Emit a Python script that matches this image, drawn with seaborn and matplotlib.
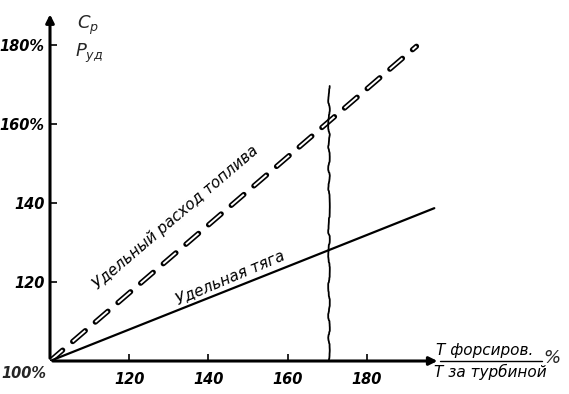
import numpy as np
import pandas as pd
import seaborn as sns
import matplotlib.pyplot as plt

# values (percent)
ratio_fuel = [100, 192.5]
fuel_consumption = [100, 179.7]
ratio_thrust = [100, 197]
specific_thrust = [100, 138.7]
cut_x = [170.5, 170.5]
cut_y = [100, 169.6]

x_ticks = [120, 140, 160, 180]
x_tick_labels = ["120", "140", "160", "180"]
y_ticks = [120, 140, 160, 180]
y_tick_labels = ["120", "140", "160%", "180%"]

sns.set_theme(style="white")
plt.rcParams['font.family'] = ['DejaVu Sans']
plt.rcParams['lines.scale_dashes'] = False

fig = plt.figure(figsize=(5.69, 3.94), dpi=100)
ax = fig.add_axes([50 / 569, 33 / 394, 395 / 569, 355 / 394])
ax.set_xlim(100, 199.7)
ax.set_ylim(100, 189.9)
for s in ax.spines.values():
    s.set_visible(False)

# axes with arrows
ax.annotate("", xy=(198.5, 100), xytext=(100, 100),
            arrowprops=dict(arrowstyle="-|>", color="black", lw=2.2, mutation_scale=12),
            annotation_clip=False)
ax.annotate("", xy=(100, 188.5), xytext=(100, 100),
            arrowprops=dict(arrowstyle="-|>", color="black", lw=2.2, mutation_scale=12),
            annotation_clip=False)

fuel = pd.DataFrame({"x": ratio_fuel, "y": fuel_consumption})
thrust = pd.DataFrame({"x": ratio_thrust, "y": specific_thrust})

# hollow dashes: thick black dashed line with a thin white one on top
sns.lineplot(data=fuel, x="x", y="y", ax=ax, color="black", lw=3.8,
             dashes=False, linestyle=(0, (12, 9.5)), dash_capstyle="round")
sns.lineplot(data=fuel, x="x", y="y", ax=ax, color="white", lw=1.4,
             dashes=False, linestyle=(0, (12, 9.5)), dash_capstyle="butt")
sns.lineplot(data=thrust, x="x", y="y", ax=ax, color="black", lw=1.6)

cut = ax.plot(cut_x, cut_y, color="black", lw=1.3)[0]
cut.set_sketch_params(scale=0.8, length=60, randomness=10)

ax.set_xticks(x_ticks)
ax.set_xticklabels(x_tick_labels)
ax.set_yticks(y_ticks)
ax.set_yticklabels(y_tick_labels)
ax.tick_params(axis="both", direction="in", length=5, width=1.2, colors="black",
               labelsize=10.5, pad=4, bottom=True, left=True)
ax.tick_params(axis="x", pad=8)
for lab in ax.get_xticklabels() + ax.get_yticklabels():
    lab.set_fontstyle("italic")
    lab.set_fontweight("bold")
ax.set_xlabel("")
ax.set_ylabel("")
ax.grid(False)

txt = dict(fontstyle="italic", fontsize=11, color="black")
ax.text(99.2, 98.8, "100%", ha="right", va="top", fontweight="bold", fontsize=10.5,
        fontstyle="italic", transform=ax.transData)
ax.text(131.8, 136.3, "Удельный расход топлива", rotation=40.5,
        rotation_mode="anchor", ha="center", va="center", **txt)
ax.text(145.5, 121.2, "Удельная тяга", rotation=23,
        rotation_mode="anchor", ha="center", va="center", **txt)

ax.text(109.5, 185, r"$C_p$", fontsize=13, ha="center", va="center")
ax.text(109.8, 177.8, r"$P_{уд}$", fontsize=13, ha="center", va="center")

# x axis label as a fraction
fig.text(485 / 569, 1 - 350 / 394, "Т форсиров.", ha="center", va="center", **txt)
fig.add_artist(plt.Line2D([440 / 569, 542 / 569], [1 - 361 / 394, 1 - 361 / 394],
                          color="black", lw=1))
fig.text(490 / 569, 1 - 372 / 394, "Т за турбиной", ha="center", va="center", **txt)
fig.text(552 / 569, 1 - 358 / 394, "%", ha="center", va="center", fontsize=13,
         fontstyle="italic")

fig.savefig("out.png", dpi=100)
